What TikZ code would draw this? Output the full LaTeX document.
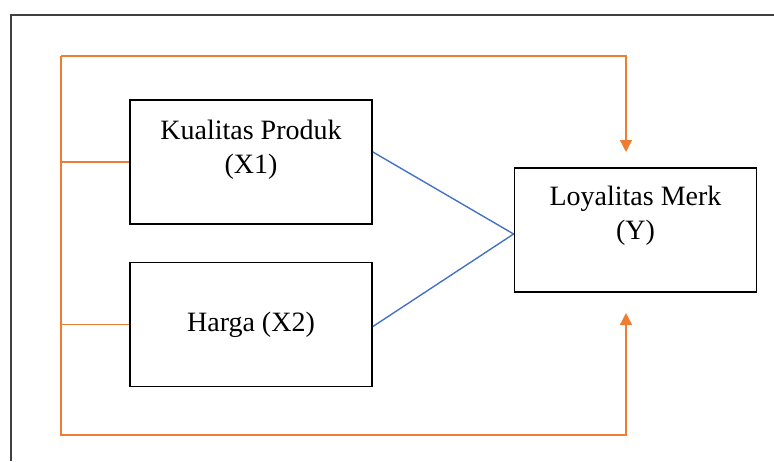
\documentclass[tikz,border=0pt]{standalone}
\usepackage{fontspec}
\setmainfont{Liberation Serif}
\usetikzlibrary{arrows.meta, positioning, calc}
\definecolor{kmFrame}{RGB}{64,64,64}
\definecolor{kmLine}{RGB}{237,125,49}
\definecolor{kmLink}{RGB}{68,114,196}

\begin{document}
\begin{tikzpicture}[x=0.5pt, y=-0.5pt,
  font=\fontsize{14}{17}\selectfont,
  varbox/.style={draw=black, line width=0.9pt, minimum width=121pt,
                 minimum height=62pt, inner sep=0pt},
  feed/.style={draw=kmLine, line width=0.7pt},
  tip/.style={-{Triangle[width=6pt, length=6pt]}},
  link/.style={draw=kmLink, line width=0.7pt}]
\useasboundingbox (0,0) rectangle (774,461);
% outer frame
\draw[kmFrame, line width=0.9pt] (11,461) -- (11,15) -- (774,15);

% variables
\node[varbox, label={[align=center, yshift=6pt]center:Kualitas Produk\\(X1)}]
      (x1) at (251,162) {};
\node[varbox] (x2) at (251,324.5) {Harga (X2)};
\node[varbox, label={[align=center, yshift=7pt]center:Loyalitas Merk\\(Y)}]
      (ly) at (635.5,230) {};

% partial effects
\coordinate (join) at ([yshift=-2pt]ly.west);
\draw[link] ([yshift=5pt]x1.east) -- (join);
\draw[link] ([yshift=-1pt]x2.east) -- (join);

% simultaneous effect
\coordinate (tl) at (61,56);
\coordinate (bl) at (61,435);
\coordinate (topin) at (626,152);
\coordinate (botin) at (626,313);
\draw[feed] (x1.west) -- (x1.west -| tl);
\draw[feed] (x2.west) -- (x2.west -| tl);
\draw[feed, tip] (tl) -| (topin);
\draw[feed, tip] (tl) -- (bl) -| (botin);
\end{tikzpicture}
\end{document}
